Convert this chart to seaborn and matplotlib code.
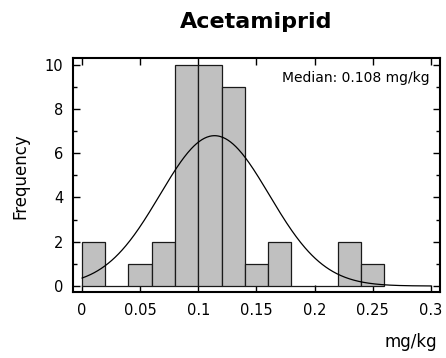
import numpy as np
import pandas as pd
import matplotlib
matplotlib.use("Agg")
import matplotlib.pyplot as plt
import seaborn as sns
from matplotlib.ticker import MultipleLocator

# Data
bin_edges = [0.00, 0.02, 0.04, 0.06, 0.08, 0.10, 0.12, 0.14, 0.16, 0.18, 0.20, 0.22, 0.24, 0.26]
bin_counts = [2, 0, 1, 2, 10, 10, 9, 1, 2, 0, 0, 2, 1]
fit_mean = 0.114
fit_sd = 0.047
median_value = 0.108
title = "Acetamiprid"
xlabel = "mg/kg"
ylabel = "Frequency"
xtick_vals = [0, 0.05, 0.1, 0.15, 0.2, 0.25, 0.3]
xtick_labels = ["0", "0.05", "0.1", "0.15", "0.2", "0.25", "0.3"]

sns.set_theme(style="ticks")
plt.rcParams['font.family'] = ['DejaVu Sans']
plt.rcParams['text.color'] = 'black'

mids = [(a + b) / 2 for a, b in zip(bin_edges[:-1], bin_edges[1:])]
df = pd.DataFrame({"x": mids, "w": bin_counts})

fig = plt.figure(figsize=(4.46, 3.58), dpi=100)
ax = fig.add_axes([0.1637, 0.1844, 0.8228, 0.6536])

sns.histplot(data=df, x="x", weights="w", bins=bin_edges, ax=ax,
             color="#c0c0c0", edgecolor="#1a1a1a", linewidth=0.9, alpha=1.0)

n = sum(bin_counts)
bw = bin_edges[1] - bin_edges[0]
xs = np.linspace(0, 0.3, 400)
ys = n * bw / (fit_sd * np.sqrt(2 * np.pi)) * np.exp(-(xs - fit_mean) ** 2 / (2 * fit_sd ** 2))
sns.lineplot(x=xs, y=ys, ax=ax, color="black", linewidth=0.9)

ax.set_xlim(-0.0077, 0.3078)
ax.set_ylim(-0.27, 10.3)
ax.yaxis.set_major_locator(MultipleLocator(2))
ax.yaxis.set_minor_locator(MultipleLocator(1))
ax.set_xticks(xtick_vals)
ax.set_xticklabels(xtick_labels)
ax.tick_params(axis="both", which="major", direction="in", length=5, width=1,
               top=True, right=True, labelsize=10.5, colors="black")
ax.tick_params(axis="x", which="major", pad=8)
ax.tick_params(axis="y", which="major", pad=7)
ax.tick_params(axis="y", which="minor", direction="in", length=3, width=1,
               left=True, right=True, colors="black")
for s in ax.spines.values():
    s.set_linewidth(1.5)
    s.set_color("black")

ax.set_xlabel("")
ax.set_ylabel("")
fig.text(0.045, 0.508, ylabel, rotation=90, ha="center", va="center", fontsize=12, color="black")
fig.text(0.98, 0.045, xlabel, ha="right", va="center", fontsize=12, color="black")
fig.text(0.575, 0.922, title, ha="center", va="baseline", fontsize=16, fontweight="bold", color="black")
ax.text(0.973, 0.899, f"Median: {median_value} mg/kg", transform=ax.transAxes,
        ha="right", va="baseline", fontsize=10, color="black")

fig.savefig("out.png", dpi=100)
